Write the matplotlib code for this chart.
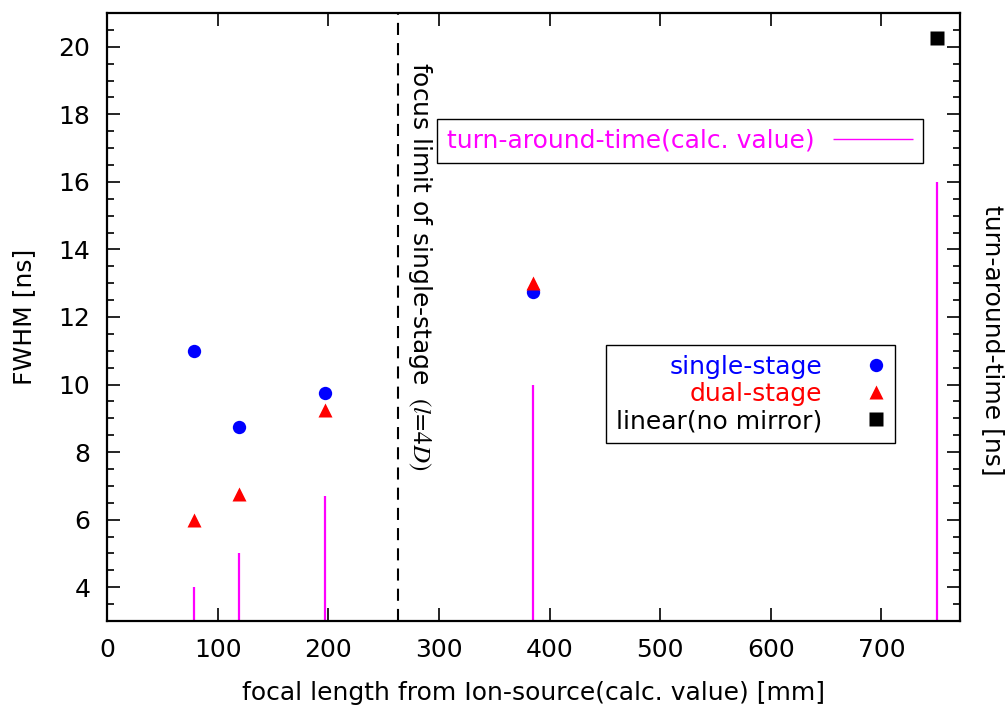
import matplotlib
matplotlib.use("Agg")
import matplotlib.pyplot as plt
from matplotlib.ticker import MultipleLocator

plt.rcParams["font.family"] = ["DejaVu Sans"]
plt.rcParams["mathtext.fontset"] = "stix"

# focal length from ion source [mm]
single_x = [79, 119, 197, 385]
single_fwhm = [11.0, 8.75, 9.75, 12.75]
dual_x = [79, 119, 197, 385]
dual_fwhm = [6.0, 6.75, 9.25, 13.0]
linear_x = [750]
linear_fwhm = [20.25]
# turn-around-time (calc. value) [ns]
tat_x = [79, 119, 197, 385, 750]
tat_ns = [4.0, 5.0, 6.7, 10.0, 16.0]
focus_limit = 263

FS = 18
W, H = 1007, 709

fig = plt.figure(figsize=(W / 100, H / 100), dpi=100)
ax = fig.add_axes([107 / W, (H - 621) / H, 853 / W, 608 / H])

tat = ax.vlines(tat_x, 0, tat_ns, colors="#ff00ff", linewidth=1.6,
                label="turn-around-time(calc. value)")
s1, = ax.plot(single_x, single_fwhm, "o", color="#0000ff", ms=9.6,
              mec="none", label="single-stage")
s2, = ax.plot(dual_x, dual_fwhm, "^", color="#ff0000", ms=9.6,
              mec="none", label="dual-stage")
s3, = ax.plot(linear_x, linear_fwhm, "s", color="black", ms=9.4,
              mec="none", label="linear(no mirror)")
ax.axvline(focus_limit, color="black", lw=1.5, dashes=(5.8, 3.9))
ax.text(focus_limit + 7, 19.55, "focus limit of single-stage $\\;(l\\!=\\!4D)$",
        rotation=-90, ha="left", va="top", fontsize=FS)

ax.set_xlim(0, 771)
ax.set_ylim(3, 21)
ax.xaxis.set_major_locator(MultipleLocator(100))
ax.yaxis.set_major_locator(MultipleLocator(2))
ax.yaxis.set_minor_locator(MultipleLocator(0.5))
ax.tick_params(which="both", direction="in", top=True, right=True,
               labelsize=FS, width=1.2)
ax.tick_params(which="major", length=9.4)
ax.tick_params(which="minor", length=5)
ax.tick_params(axis="y", pad=12)
ax.tick_params(axis="x", pad=12)
for sp in ax.spines.values():
    sp.set_linewidth(1.6)

fig.text(533 / W, 9 / H, "focal length from Ion-source(calc. value) [mm]",
         ha="center", va="baseline", fontsize=FS)
fig.text(24 / W, (H - 317) / H, "FWHM [ns]", rotation=90,
         ha="center", va="center", fontsize=FS)
fig.text(993 / W, (H - 340) / H, "turn-around-time [ns]", rotation=-90,
         ha="center", va="center", fontsize=FS)

leg1 = ax.legend([tat], ["turn-around-time(calc. value)"], loc="upper right",
                 bbox_to_anchor=(0.9566, 0.8257), borderaxespad=0,
                 fontsize=FS, markerfirst=False, handlelength=3.2,
                 handletextpad=0.75, borderpad=0.4, fancybox=False,
                 framealpha=1, edgecolor="black")
leg1.get_frame().set_linewidth(1.0)
leg1.get_texts()[0].set_color("#ff00ff")
leg1.legend_handles[0].set_linewidth(1.0)
ax.add_artist(leg1)

leg2 = ax.legend([s1, s2, s3], ["single-stage", "dual-stage", "linear(no mirror)"],
                 loc="upper right", bbox_to_anchor=(0.9238, 0.4539),
                 borderaxespad=0, fontsize=FS, markerfirst=False,
                 handlelength=0.72, handletextpad=1.8, borderpad=0.4,
                 labelspacing=0.12, fancybox=False, framealpha=1,
                 edgecolor="black")
leg2.get_frame().set_linewidth(1.0)
for t, c in zip(leg2.get_texts(), ["#0000ff", "#ff0000", "black"]):
    t.set_color(c)

fig.savefig("out.png", dpi=100)
